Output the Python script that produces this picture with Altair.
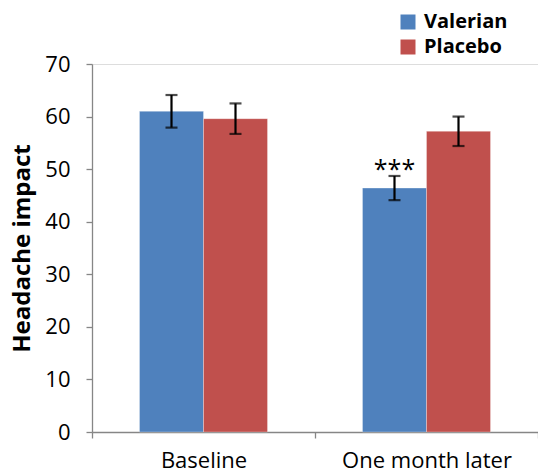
import altair as alt
import pandas as pd

categories = ["Baseline", "One month later"]
groups = ["Valerian", "Placebo"]
valerian = [61.0, 46.4]
placebo = [59.6, 57.2]
valerian_err = [3.1, 2.3]
placebo_err = [2.9, 2.8]
colors = ["#4F81BD", "#C0504D"]
annot_text = ["***"]
annot_cat = ["One month later"]
annot_group = ["Valerian"]

rows = []
for i, c in enumerate(categories):
    rows.append({"cat": c, "group": "Valerian", "value": valerian[i],
                 "lo": valerian[i] - valerian_err[i], "hi": valerian[i] + valerian_err[i]})
    rows.append({"cat": c, "group": "Placebo", "value": placebo[i],
                 "lo": placebo[i] - placebo_err[i], "hi": placebo[i] + placebo_err[i]})
df = pd.DataFrame(rows)
ann = df[(df["cat"].isin(annot_cat)) & (df["group"].isin(annot_group))].copy()
ann["label"] = annot_text

FONT = "Open Sans"
AX = "#868686"

x = alt.X("cat:N", sort=categories, title=None,
          scale=alt.Scale(paddingInner=0, paddingOuter=0),
          axis=alt.Axis(tickBand="extent", labelAngle=0, labelFontSize=22,
                        labelFont=FONT, labelColor="#000", labelPadding=12,
                        domainColor=AX, tickColor=AX, tickSize=6,
                        domainWidth=1.3, tickWidth=1.3))
xo = alt.XOffset("group:N", sort=groups,
                 scale=alt.Scale(paddingInner=0, paddingOuter=0.742))

base = alt.Chart(df)

bars = base.mark_bar(stroke="white", strokeWidth=0.5, strokeOpacity=0.6).encode(
    x=x, xOffset=xo,
    y=alt.Y("value:Q", title="Headache impact",
            scale=alt.Scale(domain=[0, 70], nice=False),
            axis=alt.Axis(values=[0, 10, 20, 30, 40, 50, 60, 70], grid=False,
                          labelFontSize=22, labelFont=FONT, labelColor="#000",
                          labelPadding=16, titleFont=FONT, titleFontSize=24,
                          titleFontWeight="bold", titleColor="#000", titlePadding=10,
                          domainColor=AX, tickColor=AX, tickSize=6,
                          domainWidth=1.3, tickWidth=1.3)),
    color=alt.Color("group:N", sort=groups,
                    scale=alt.Scale(domain=groups, range=colors),
                    legend=alt.Legend(title=None, orient="none", legendX=306, legendY=-52,
                                      symbolType="square", symbolSize=225,
                                      symbolStrokeWidth=0,
                                      labelFont=FONT, labelFontSize=20,
                                      labelFontWeight="bold", labelColor="#000",
                                      rowPadding=5, labelOffset=6)),
)

rules = base.mark_rule(color="black", strokeWidth=2.2).encode(
    x=x, xOffset=xo, y="lo:Q", y2="hi:Q")
caps_hi = base.mark_tick(color="black", thickness=2.2, size=12, orient="horizontal").encode(
    x=x, xOffset=xo, y="hi:Q")
caps_lo = base.mark_tick(color="black", thickness=2.2, size=12, orient="horizontal").encode(
    x=x, xOffset=xo, y="lo:Q")

text = alt.Chart(ann).mark_text(font=FONT, fontSize=25, dy=7, baseline="bottom",
                                color="black").encode(
    x=x, xOffset=xo, y="hi:Q", text="label:N")

chart = alt.layer(bars, rules, caps_hi, caps_lo, text).properties(
    width=446, height=368,
    autosize=alt.AutoSizeParams(type="none"),
    padding={"left": 92, "top": 64, "right": 0, "bottom": 41},
).configure_view(stroke=None).configure(background="white")

chart.save("out.html", embed_options={"renderer": "svg", "actions": False})
